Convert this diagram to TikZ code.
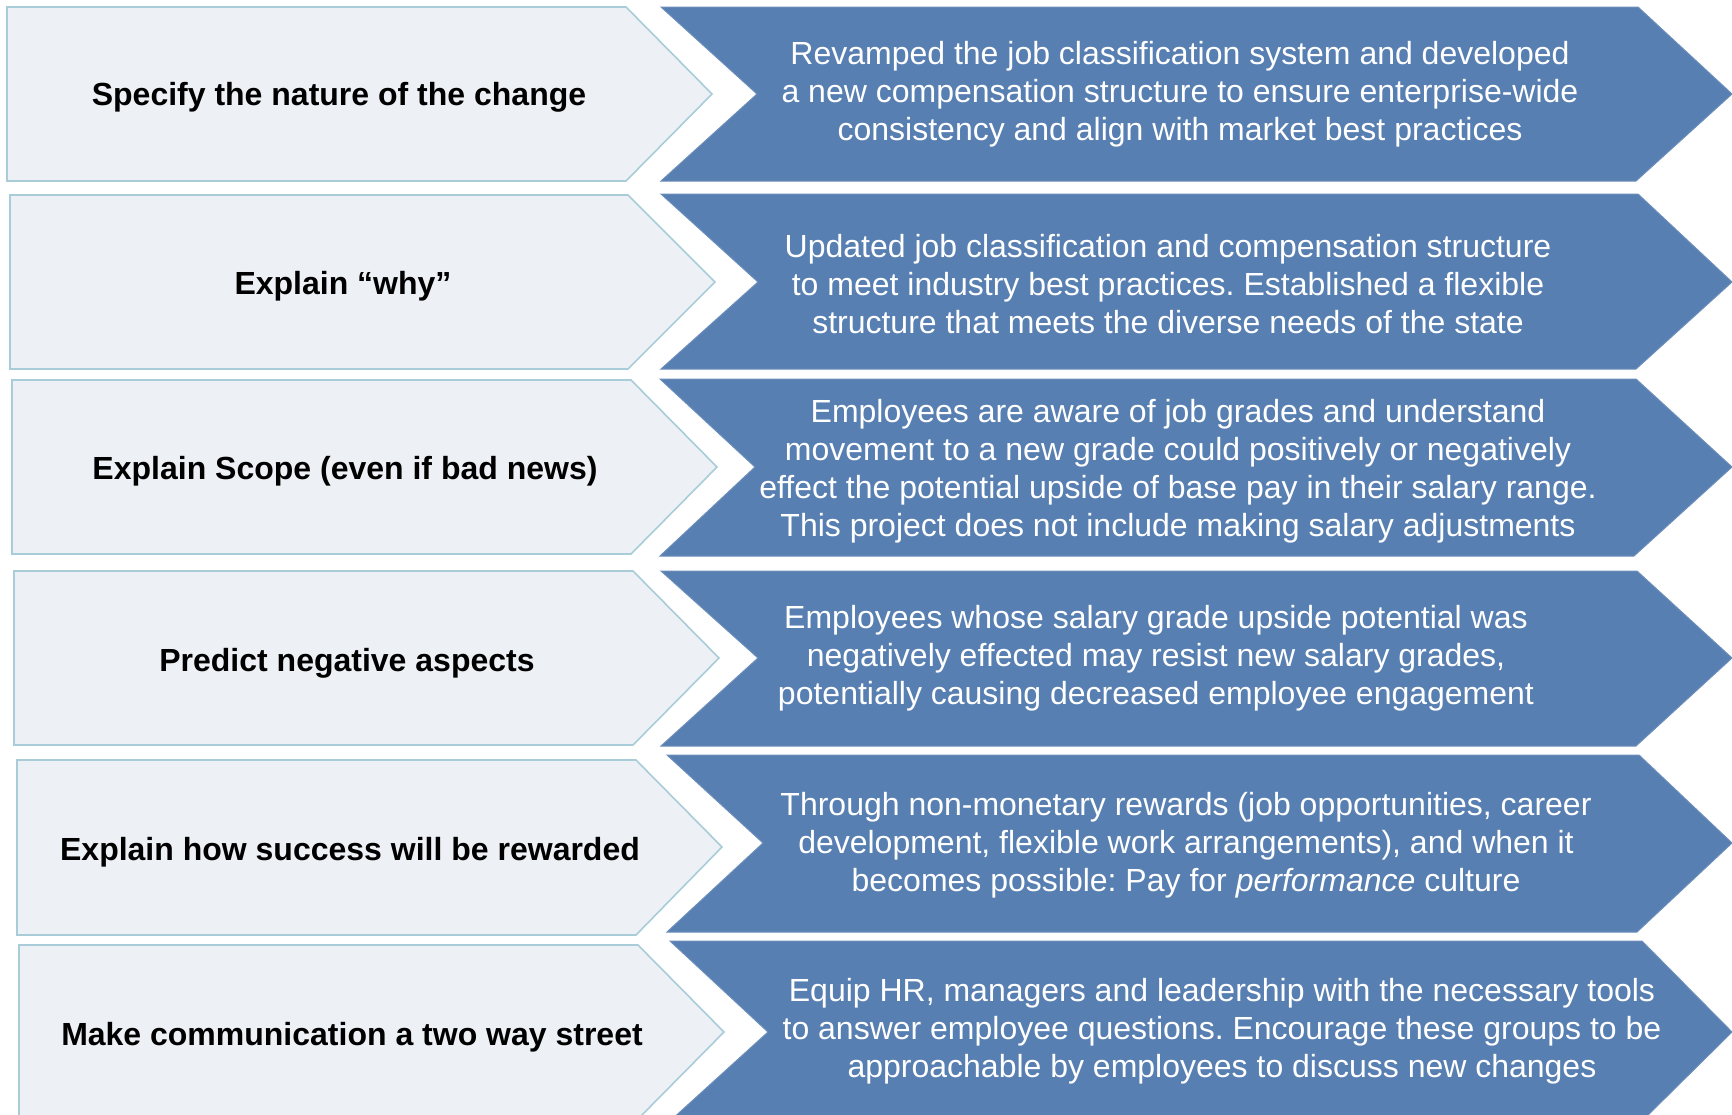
\documentclass[tikz,border=0pt]{standalone}
\usepackage{fontspec}
\setmainfont{Liberation Sans}
\usepackage{tikz}
\usetikzlibrary{positioning}
\frenchspacing

\definecolor{stepfill}{HTML}{EDF0F5}
\definecolor{stepline}{HTML}{A8CDD9}
\definecolor{resultblue}{HTML}{587FB1}

\begin{document}
\begin{tikzpicture}[x=1pt, y=-1pt,
    stepbox/.style={fill=stepfill, draw=stepline, line width=1.6pt, line join=miter},
    resultbox/.style={fill=resultblue, draw=resultblue!88!white, line width=1pt},
    steptext/.style={font=\fontsize{32}{38}\selectfont\bfseries, text=black, align=center, inner sep=0pt},
    resulttext/.style={font=\fontsize{32}{38}\selectfont, text=white, align=center, inner sep=0pt}]
      \useasboundingbox (0,0) rectangle (1732,1114);
      \clip (0,0) rectangle (1732,1114);

      % left column: the steps
      \draw[stepbox] (7,7) -- (626,7) -- (712,94) -- (626,181) -- (7,181) -- cycle;
      \draw[stepbox] (10,195) -- (628,195) -- (715,282) -- (628,369) -- (10,369) -- cycle;
      \draw[stepbox] (12,380) -- (631,380) -- (717,467) -- (631,554) -- (12,554) -- cycle;
      \draw[stepbox] (14,571) -- (633,571) -- (719,658) -- (633,745) -- (14,745) -- cycle;
      \draw[stepbox] (17,760) -- (636,760) -- (722,847) -- (636,935) -- (17,935) -- cycle;
      \draw[stepbox] (19,945) -- (638,945) -- (724,1032) -- (638,1119) -- (19,1119) -- cycle;

      % right column: what was done
      \draw[resultbox] (661,7) -- (1638,7) -- (1732,94) -- (1636,181) -- (661,181) -- (757,94) -- cycle;
      \draw[resultbox] (661,194) -- (1638,194) -- (1732,282) -- (1636,369) -- (661,369) -- (758,282) -- cycle;
      \draw[resultbox] (660,379) -- (1636,379) -- (1732,467) -- (1634,556) -- (660,556) -- (755,467) -- cycle;
      \draw[resultbox] (661,571) -- (1637,571) -- (1732,658) -- (1636,746) -- (661,746) -- (758,658) -- cycle;
      \draw[resultbox] (667,755) -- (1639,755) -- (1732,843) -- (1637,932) -- (667,932) -- (763,843) -- cycle;
      \draw[resultbox] (670,941) -- (1642,941) -- (1732,1032) -- (1642,1121) -- (670,1121) -- (768,1032) -- cycle;

      \node[steptext] (nature) at (339, 97) {Specify the nature of the change};
      \node[steptext] (why) at (343, 286) {Explain “why”};
      \node[steptext] (scope) at (345, 471) {Explain Scope (even if bad news)};
      \node[steptext] (aspects) at (347, 663) {Predict negative aspects};
      \node[steptext] (rewarded) at (350, 852) {Explain how success will be rewarded};
      \node[steptext] (street) at (352, 1037) {Make communication a two way street};

      \node[resulttext] (revamped) at (1180, 94) {Revamped the job classification system and developed\\
        a new compensation structure to ensure enterprise-wide\\
        consistency and align with market best practices};
      \node[resulttext] (updated) at (1168, 284) {Updated job classification and compensation structure\\
        to meet industry best practices. Established a flexible\\
        structure that meets the diverse needs of the state};
      \node[resulttext] (aware) at (1178, 471) {Employees are aware of job grades and understand\\
        movement to a new grade could positively or negatively\\
        effect the potential upside of base pay in their salary range.\\
        This project does not include making salary adjustments};
      \node[resulttext] (resist) at (1156, 658) {Employees whose salary grade upside potential was\\
        negatively effected may resist new salary grades,\\
        potentially causing decreased employee engagement};
      \node[resulttext] (through) at (1186, 845) {Through non-monetary rewards (job opportunities, career\\
        development, flexible work arrangements), and when it\\
        becomes possible: Pay for \textit{performance} culture};
      \node[resulttext] (equip) at (1222, 1031) {Equip HR, managers and leadership with the necessary tools\\
        to answer employee questions. Encourage these groups to be\\
        approachable by employees to discuss new changes};
    \end{tikzpicture}
\end{document}
